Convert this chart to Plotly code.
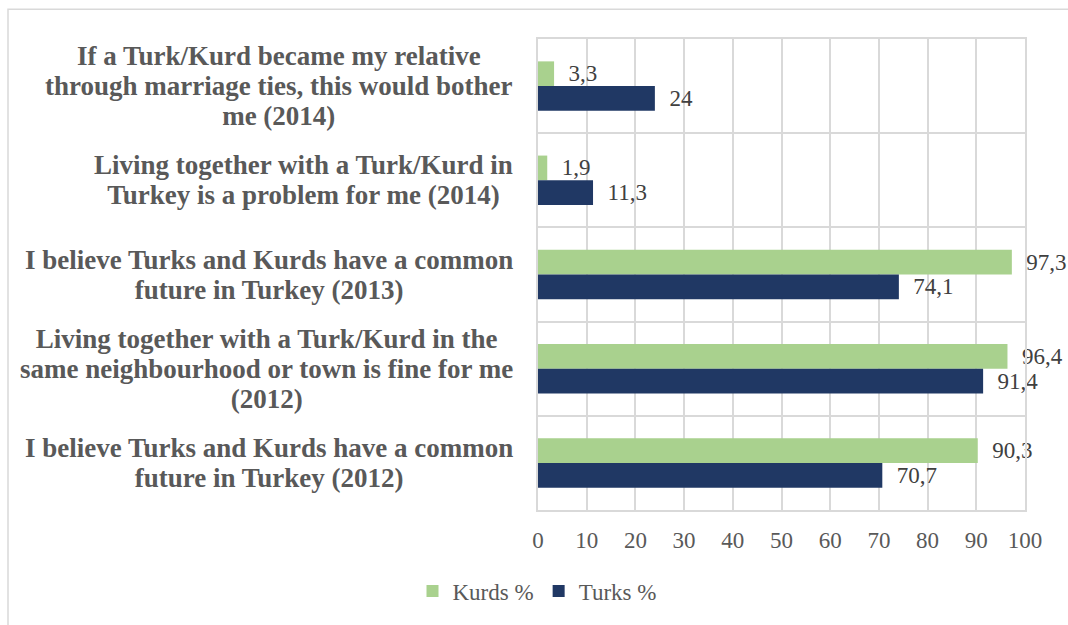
import plotly.graph_objects as go

# Survey statements, listed top to bottom as drawn
statements = [
    "If a Turk/Kurd became my relative<br>through marriage ties, this would bother<br>me (2014)",
    "Living together with a Turk/Kurd in<br>Turkey is a problem for me (2014)",
    "I believe Turks and Kurds have a common<br>future in Turkey (2013)",
    "Living together with a Turk/Kurd in the<br>same neighbourhood or town is fine for me<br>(2012)",
    "I believe Turks and Kurds have a common<br>future in Turkey (2012)",
]
kurds_pct = [3.3, 1.9, 97.3, 96.4, 90.3]
turks_pct = [24, 11.3, 74.1, 91.4, 70.7]
x_ticks = [0, 10, 20, 30, 40, 50, 60, 70, 80, 90, 100]

GREEN = "#A9D18E"
NAVY = "#203864"
GRID = "#D9D9D9"
SERIF = "Liberation Serif"

W, H = 1068, 625
M_L, M_R, M_T, M_B = 538, 43, 39, 110
PW, PH = W - M_L - M_R, H - M_T - M_B


def label_text(v):
    # decimal comma, with a little space between the bar end and the number
    s = f"{v:g}".replace(".", ",")
    return "\u00a0\u00a0" + s


def statement_markup(s):
    # glyphs set larger than the base font so the lines stay tightly spaced
    lines = s.split("<br>")
    body = "<br>".join(f"<span style='font-size:27px'>{ln}</span>" for ln in lines)
    return f"<b>{body}</b>"


def px_x(px):
    return (px - M_L) / PW


def px_y(py):
    return (H - M_B - py) / PH


fig = go.Figure()
fig.add_trace(go.Bar(
    name="Kurds %", y=statements, x=kurds_pct, orientation="h",
    marker=dict(color=GREEN, line=dict(width=0)),
    text=[label_text(v) for v in kurds_pct], textposition="outside",
    textfont=dict(family=SERIF, size=23, color="#404040"),
    cliponaxis=False, constraintext="none",
))
fig.add_trace(go.Bar(
    name="Turks %", y=statements, x=turks_pct, orientation="h",
    marker=dict(color=NAVY, line=dict(width=0)),
    text=[label_text(v) for v in turks_pct], textposition="outside",
    textfont=dict(family=SERIF, size=23, color="#404040"),
    cliponaxis=False, constraintext="none",
))

# Statement labels: lines centred within a right-aligned block
for s in statements:
    fig.add_annotation(
        x=px_x(515), xref="paper", y=s, yref="y",
        text=statement_markup(s), showarrow=False,
        xanchor="right", yanchor="middle", align="center",
        font=dict(family=SERIF, size=23, color="#595959"),
    )

# Outer chart frame (cropped at right and bottom)
fig.add_shape(
    type="rect", xref="paper", yref="paper",
    x0=px_x(8), x1=px_x(1075), y0=px_y(632), y1=px_y(9),
    line=dict(color=GRID, width=1.5), layer="below",
)

fig.update_layout(
    width=W, height=H,
    margin=dict(l=M_L, r=M_R, t=M_T, b=M_B),
    paper_bgcolor="white", plot_bgcolor="white",
    barmode="group", bargap=0.475, bargroupgap=0,
    showlegend=True,
    legend=dict(
        orientation="h", x=px_x(537), xanchor="center",
        y=px_y(597), yanchor="middle",
        font=dict(family=SERIF, size=23, color="#595959"),
        itemsizing="constant", tracegroupgap=0,
    ),
    xaxis=dict(
        range=[0, 100], tickvals=x_ticks, showgrid=True,
        gridcolor=GRID, gridwidth=1.5, zeroline=False,
        showline=True, linecolor=GRID, linewidth=1.5, mirror=True,
        ticks="", ticklabelstandoff=9,
        tickfont=dict(family=SERIF, size=23, color="#595959"),
        fixedrange=True,
    ),
    yaxis=dict(
        type="category", autorange="reversed",
        tickson="boundaries", showgrid=True, gridcolor=GRID, gridwidth=1.5,
        showline=True, linecolor=GRID, linewidth=1.5, mirror=True,
        showticklabels=False, ticks="",
        fixedrange=True,
    ),
)

fig.write_html("out.html")
